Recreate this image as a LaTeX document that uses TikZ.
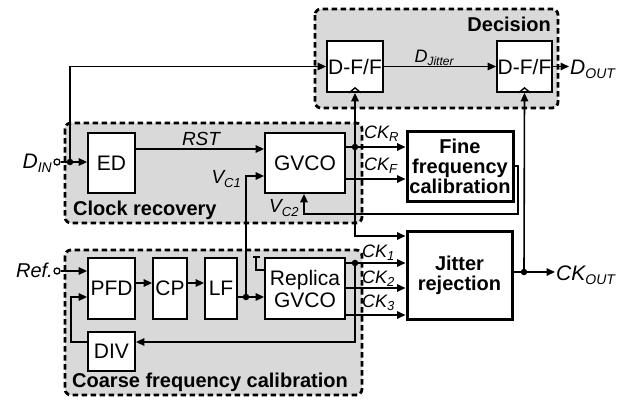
\documentclass[tikz,border=0pt]{standalone}
\usepackage{fontspec}
\setmainfont{Liberation Sans}
\usetikzlibrary{arrows.meta}
\definecolor{grp}{RGB}{217,217,217}
\newcommand{\lab}[4]{{\fontsize{#1}{#1}\selectfont\itshape #3\raisebox{-0.22em}{\fontsize{#2}{#2}\selectfont #4}}}
\begin{document}
\begin{tikzpicture}[x=1pt,y=-1pt,line join=miter,
  blk/.style={draw, line width=1.8pt, fill=white, inner sep=0pt, align=center, font=\fontsize{21}{22}\selectfont},
  thk/.style={blk, line width=3pt, font=\bfseries\fontsize{20}{20}\selectfont},
  grpbox/.style={draw, dash pattern=on 5.5pt off 3.5pt, line width=2.8pt, rounded corners=6pt, fill=grp},
  grptitle/.style={inner sep=0pt, font=\bfseries\fontsize{20}{20}\selectfont},
  lbl/.style={inner sep=0pt},
  wire/.style={line width=1.6pt},
  arr/.style={wire, -{Triangle[length=8.5pt,width=7.5pt]}},
  dot/.style={circle, fill, inner sep=0pt, minimum size=6.5pt},
  port/.style={circle, draw, fill=white, line width=1.3pt, inner sep=0pt, minimum size=6pt},
  clk/.style={line width=1.4pt}]
\useasboundingbox (0,0) rectangle (628,399);

% group boxes
\draw[grpbox] (315,9) rectangle (558,108);
\draw[grpbox] (65,123) rectangle (362,223);
\draw[grpbox] (65,250) rectangle (362,395);

% y levels
\coordinate (yrst) at (0,149);
\coordinate (yvc1) at (0,176);
\coordinate (yckf) at (0,179);
\coordinate (yck0) at (0,236);
\coordinate (ycp) at (0,283);
\coordinate (ypfd2) at (0,297);
\coordinate (yck2) at (0,288);
\coordinate (yck3) at (0,315);
\coordinate (ydiv) at (0,342);
\coordinate (fb1) at (518,214);
\coordinate (vc2x) at (304,0);
\coordinate (dl) at (71,342);
\coordinate (tie) at (256,270);

% blocks
\node[blk, minimum width=56pt, minimum height=51pt] (ff1) at (355,66.5) {D-F/F};
\node[blk, minimum width=55pt, minimum height=51pt] (ff2) at (524.5,66.5) {D-F/F};
\node[blk, minimum width=47pt, minimum height=60pt] (ed) at (111.5,163) {ED};
\node[blk, minimum width=80pt, minimum height=60pt] (gvco) at (305,163) {GVCO};
\node[blk, minimum width=47pt, minimum height=61pt] (pfd) at (111.5,288.5) {PFD};
\node[blk, minimum width=34pt, minimum height=61pt] (cp) at (170,288.5) {CP};
\node[blk, minimum width=32pt, minimum height=61pt] (lf) at (221,288.5) {LF};
\node[blk, minimum width=80pt, minimum height=61pt] (rep) at (305,288.5) {Replica\\GVCO};
\node[blk, minimum width=47pt, minimum height=39pt] (div) at (111.5,351.5) {DIV};
\node[thk, minimum width=106pt, minimum height=70pt] (ffc) at (460,166) {Fine\\frequency\\calibration};
\node[thk, minimum width=105pt, minimum height=88pt] (jit) at (459.5,275) {Jitter\\rejection};

% clock inputs of flip-flops
\draw[clk] ([xshift=-6pt]ff1.south) -- ([yshift=5pt]ff1.south) -- ([xshift=6pt]ff1.south);
\draw[clk] ([xshift=-6pt]ff2.south) -- ([yshift=5pt]ff2.south) -- ([xshift=6pt]ff2.south);

% input
\node[port] (din) at (57,162) {};
\node[dot] (j1) at (70,162) {};
\draw[wire] (din) -- (j1);
\draw[arr] (j1) -- (ed.west |- j1);
\draw[arr] (j1.center) |- (ff1.west);
\draw[arr] (ff1.east) -- (ff2.west);
\coordinate (dout) at (569,66.5);
\draw[arr] (ff2.east) -- (dout);

% clock recovery
\draw[arr] (ed.east |- yrst) -- (gvco.west |- yrst);
\node[dot] (j2) at (246,297) {};
\draw[wire] (lf.east |- j2) -- (j2);
\draw[arr] (j2) -- (rep.west |- j2);
\draw[arr] (j2.center) |- (gvco.west |- yvc1);

\node[dot] (jr) at (355,147) {};
\draw[wire] (gvco.east |- jr) -- (jr);
\draw[arr] (jr) -- (ffc.west |- jr);
\draw[arr] (jr.center) -- (ff1.south);
\draw[arr] (jr.center) |- (jit.west |- yck0);
\draw[arr] (gvco.east |- yckf) -- (ffc.west |- yckf);
\draw[arr] (ffc.east) -| (fb1) -| (vc2x |- gvco.south);

% coarse loop
\node[port] (ref) at (57,271) {};
\draw[arr] (ref) -- (pfd.west |- ref);
\draw[arr] (pfd.east |- ycp) -- (cp.west |- ycp);
\draw[arr] (cp.east |- ycp) -- (lf.west |- ycp);
\node[dot] (j3) at (355,263) {};
\draw[wire] (rep.east |- j3) -- (j3);
\draw[arr] (j3) -- (jit.west |- j3);
\draw[arr] (j3.center) |- (div.east |- ydiv);
\draw[arr] (rep.east |- yck2) -- (jit.west |- yck2);
\draw[arr] (rep.east |- yck3) -- (jit.west |- yck3);
\draw[arr] (div.west |- ydiv) -- (dl) |- (pfd.west |- ypfd2);
\draw[wire] (rep.west |- tie) -- (tie) -- (256,257);
\draw[wire] (252.5,257) -- (259.5,257);

% output
\node[dot] (j4) at (524,272) {};
\draw[wire] (jit.east |- j4) -- (j4);
\coordinate (ckout) at (555,272);
\draw[arr] (j4) -- (ckout);
\draw[arr] (j4.center) -- (ff2.south);

% labels
\node[lbl, anchor=base east] at (52,168) {\lab{21}{14}{D}{IN}};
\node[lbl, anchor=base east] at (53,277) {\fontsize{20}{20}\selectfont\itshape Ref.};
\node[lbl, anchor=base] at (201,145) {\fontsize{19}{19}\selectfont\itshape RST};
\node[lbl, anchor=base east] at (241,183) {\lab{19}{13}{V}{C1}};
\node[lbl, anchor=base west] at (269,212) {\lab{19}{13}{V}{C2}};
\node[lbl, anchor=base west] at (364,138) {\lab{18}{13}{CK}{R}};
\node[lbl, anchor=base west] at (364,170) {\lab{18}{13}{CK}{F}};
\node[lbl, anchor=base west] at (362,257) {\lab{18}{13}{CK}{1}};
\node[lbl, anchor=base west] at (362,283) {\lab{18}{13}{CK}{2}};
\node[lbl, anchor=base west] at (362,307) {\lab{18}{13}{CK}{3}};
\node[lbl, anchor=base] at (434,62) {\lab{18}{12}{D}{Jitter}};
\node[lbl, anchor=base west] at (570,74) {\lab{21}{14}{D}{OUT}};
\node[lbl, anchor=base west] at (556,280) {\lab{21}{14}{CK}{OUT}};

\node[grptitle, anchor=base east] at (551,31) {Decision};
\node[grptitle, anchor=base west] at (73,215) {Clock recovery};
\node[grptitle, anchor=base west] at (72,387) {Coarse frequency calibration};
\end{tikzpicture}
\end{document}
